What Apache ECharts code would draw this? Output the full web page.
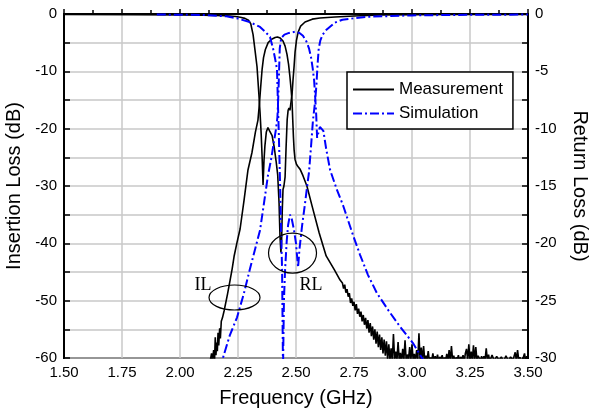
<!DOCTYPE html>
<html>
<head>
<meta charset="utf-8">
<script src="https://cdn.jsdelivr.net/npm/echarts@6/dist/echarts.min.js"></script>
<style>
  html, body { margin: 0; padding: 0; background: #fff; }
  #main { width: 589px; height: 412px; }
</style>
</head>
<body>
<div id="main"></div>
<script>
// measured insertion loss (dB), left axis
var measIlFreq = [2.130, 2.136, 2.140, 2.145, 2.149, 2.152, 2.155, 2.158, 2.161, 2.164, 2.167, 2.171, 2.174, 2.178, 2.183, 2.190, 2.198, 2.205, 2.216, 2.225, 2.233, 2.246, 2.259, 2.276, 2.293, 2.310, 2.325, 2.336, 2.342, 2.348, 2.354, 2.360, 2.368, 2.380, 2.395, 2.410, 2.420, 2.432, 2.444, 2.453, 2.461, 2.468, 2.474, 2.479, 2.483, 2.486, 2.489, 2.492, 2.496, 2.502, 2.510, 2.518, 2.530, 2.547, 2.570, 2.600, 2.630, 2.665, 2.690];
var measIl = [-60.6, -59.2, -60.5, -58.6, -60.3, -56.4, -59.5, -57.3, -58.8, -55.6, -57.8, -54.8, -56.6, -53.6, -53.0, -51.8, -50.2, -48.8, -46.4, -44.4, -42.3, -39.8, -37.5, -32.5, -27.2, -24.2, -20.6, -18.5, -15.8, -12.6, -9.6, -7.6, -6.2, -5.0, -4.4, -4.1, -4.0, -4.2, -4.7, -5.6, -7.0, -8.8, -11.0, -13.2, -15.3, -18.5, -21.5, -23.8, -25.4, -26.2, -26.7, -27.1, -28.2, -30.0, -33.6, -38.2, -42.2, -44.6, -46.4];

// noisy tail of the measured insertion loss, sweep points from 2.700 GHz every 0.005 GHz
var tailStart = 2.700;
var tailStep = 0.005;
var measIlTail = [
  -46.9, -47.9, -47.2, -48.6, -48.0, -49.3, -48.7, -50.4, -49.6, -50.9,
  -50.2, -51.7, -50.6, -52.3, -51.4, -52.8, -51.9, -53.6, -52.5, -54.2,
  -53.0, -54.9, -53.4, -55.6, -53.9, -56.2, -54.5, -56.8, -55.0, -57.5,
  -55.4, -58.1, -55.9, -58.6, -56.4, -59.2, -56.8, -59.6, -57.1, -60.2,
  -57.6, -60.4, -58.3, -60.6, -55.8, -60.3, -58.9, -60.5, -57.2, -60.4,
  -59.1, -60.6, -58.4, -60.3, -56.9, -60.5, -59.4, -60.2, -58.1, -60.6,
  -57.6, -60.4, -59.3, -60.5, -58.6, -60.3, -55.7, -60.6, -58.2, -60.4,
  -57.9, -60.5, -59.6, -60.3, -58.8, -60.6, -59.9, -60.4, -59.2, -60.5,
  -59.7, -60.4, -59.4, -60.6, -59.8, -60.3, -59.5, -60.5, -59.9, -60.4,
  -59.3, -60.5, -58.6, -60.5, -57.9, -60.4, -59.6, -60.5, -59.9, -60.3,
  -59.5, -60.6, -59.8, -60.3, -59.5, -60.6, -59.2, -58.4, -60.4, -57.6,
  -60.5, -58.9, -60.3, -57.8, -60.6, -58.1, -60.4, -59.6, -59.3, -60.5,
  -59.7, -60.4, -59.7, -60.3, -58.3, -60.5, -59.4, -60.6, -60.4, -59.5,
  -59.8, -60.5, -60.5, -59.7, -59.6, -60.4, -60.3, -59.8, -59.9, -60.6,
  -60.4, -59.6, -59.7, -60.5, -60.5, -59.8, -59.5, -60.4, -60.3, -59.0,
  -60.5, -58.6, -60.3, -59.9, -59.8, -60.5, -60.4, -59.2, -60.5, -59.7,
  -60.2
];

// measured return loss (dB), right axis
var measRlFreq = [1.50, 1.80, 2.00, 2.10, 2.20, 2.24, 2.26, 2.28, 2.295, 2.305, 2.315, 2.323, 2.332, 2.340, 2.345, 2.350, 2.354, 2.358, 2.362, 2.366, 2.372, 2.379, 2.386, 2.397, 2.406, 2.414, 2.421, 2.427, 2.431, 2.435, 2.438, 2.441, 2.444, 2.448, 2.453, 2.457, 2.462, 2.466, 2.470, 2.474, 2.479, 2.483, 2.487, 2.492, 2.496, 2.502, 2.509, 2.520, 2.539, 2.570, 2.603, 2.668, 2.75, 2.862, 3.0, 3.2, 3.5];
var measRl = [-0.05, -0.06, -0.08, -0.1, -0.15, -0.22, -0.28, -0.38, -0.55, -0.85, -1.8, -3.1, -4.6, -7.0, -8.6, -10.5, -12.5, -14.9, -12.8, -11.5, -10.3, -9.9, -10.2, -10.6, -11.6, -12.8, -14.0, -16.5, -19.4, -20.8, -19.8, -17.0, -15.3, -15.0, -14.2, -11.8, -9.2, -8.4, -8.2, -8.4, -7.6, -7.0, -5.8, -4.5, -3.3, -2.3, -1.6, -1.05, -0.7, -0.45, -0.35, -0.26, -0.18, -0.09, -0.06, -0.05, -0.04];

// simulated insertion loss (dB), left axis
var simIlFreq = [2.175, 2.185, 2.215, 2.246, 2.275, 2.300, 2.325, 2.345, 2.362, 2.379, 2.392, 2.404, 2.414, 2.420, 2.424, 2.427, 2.430, 2.436, 2.450, 2.470, 2.496, 2.515, 2.530, 2.545, 2.556, 2.565, 2.572, 2.578, 2.582, 2.587, 2.591, 2.596, 2.603, 2.610, 2.618, 2.630, 2.647, 2.675, 2.703, 2.746, 2.776, 2.810, 2.849, 2.900, 2.948, 3.004, 3.043, 3.07];
var simIl = [-62.0, -60.0, -56.0, -52.9, -48.8, -44.7, -40.8, -37.7, -33.0, -28.2, -25.5, -22.5, -20.0, -18.0, -14.0, -10.0, -6.0, -4.2, -3.6, -3.3, -3.1, -3.3, -3.8, -4.8, -6.0, -7.6, -9.5, -11.5, -14.0, -17.5, -21.6, -20.8, -19.7, -19.6, -20.4, -23.5, -27.2, -30.5, -33.4, -38.6, -42.0, -45.5, -48.7, -51.8, -54.5, -57.4, -60.0, -61.5];

// simulated return loss (dB), right axis
var simRlFreq = [1.90, 2.00, 2.10, 2.20, 2.25, 2.30, 2.345, 2.37, 2.388, 2.401, 2.410, 2.418, 2.422, 2.426, 2.431, 2.436, 2.440, 2.444, 2.448, 2.453, 2.460, 2.466, 2.474, 2.482, 2.491, 2.500, 2.505, 2.509, 2.515, 2.526, 2.539, 2.547, 2.556, 2.565, 2.573, 2.582, 2.588, 2.593, 2.598, 2.605, 2.615, 2.630, 2.668, 2.70, 2.80, 3.0, 3.2, 3.5];
var simRl = [-0.05, -0.06, -0.09, -0.2, -0.4, -0.7, -1.13, -1.6, -2.0, -3.0, -3.9, -4.8, -7.7, -10.5, -14.5, -19.0, -22.3, -31.0, -25.0, -22.3, -19.8, -18.4, -17.5, -17.9, -18.8, -20.0, -21.2, -22.1, -20.5, -18.5, -16.5, -15.2, -13.8, -11.5, -9.3, -7.7, -6.2, -4.4, -3.0, -2.3, -1.8, -1.4, -0.75, -0.5, -0.25, -0.12, -0.08, -0.05];

function pairs(xs, ys) {
  var out = [];
  for (var i = 0; i < xs.length; i++) out.push([xs[i], ys[i]]);
  return out;
}

var measIlData = pairs(measIlFreq, measIl);
for (var i = 0; i < measIlTail.length; i++) {
  measIlData.push([+(tailStart + i * tailStep).toFixed(3), measIlTail[i]]);
}

var sans = '"Liberation Sans", Arial, sans-serif';
var serif = '"Liberation Serif", "Times New Roman", serif';
var gridColor = '#c8c8c8';
var simStyle = { color: '#0000ff', width: 2, type: [9, 3, 2, 3] };
var measStyle = { color: '#000', width: 1.6 };

var myChart = echarts.init(document.getElementById('main'));

option = {
  animation: false,
  backgroundColor: '#fff',
  textStyle: { fontFamily: sans },
  grid: {
    left: 64, right: 61, top: 14, bottom: 54,
    outerBoundsMode: 'none', containLabel: false,
    show: true, borderColor: '#000', borderWidth: 2
  },
  legend: {
    data: ['Measurement', 'Simulation'],
    orient: 'vertical',
    left: 347, top: 72,
    backgroundColor: '#fff',
    borderColor: '#000', borderWidth: 1.5, borderRadius: 0,
    padding: [9, 10, 7, 5],
    itemWidth: 41, itemHeight: 14, itemGap: 7,
    itemStyle: { color: 'rgba(0,0,0,0)', borderWidth: 0 },
    textStyle: { fontSize: 17, color: '#000', fontFamily: sans }
  },
  xAxis: {
    type: 'value', min: 1.5, max: 3.5, interval: 0.25,
    name: 'Frequency (GHz)', nameLocation: 'middle', nameGap: 30,
    nameTextStyle: { fontSize: 20, color: '#000', fontFamily: sans },
    axisLine: { lineStyle: { color: '#000', width: 2 } },
    axisTick: { inside: true, length: 5, lineStyle: { color: '#000', width: 1.5 } },
    minorTick: { show: true, splitNumber: 2, length: 4, lineStyle: { color: '#000', width: 1.5 } },
    splitLine: { show: true, lineStyle: { color: gridColor, width: 1.5 } },
    axisLabel: { color: '#000', fontSize: 15, margin: 7, formatter: function (v) { return v.toFixed(2); } }
  },
  yAxis: [{
    type: 'value', min: -60, max: 0, interval: 10,
    name: 'Insertion Loss (dB)', nameLocation: 'middle', nameGap: 40,
    nameTextStyle: { fontSize: 20, color: '#000', fontFamily: sans },
    axisLine: { show: true, lineStyle: { color: '#000', width: 2 } },
    axisTick: { show: true, inside: true, length: 6, lineStyle: { color: '#000', width: 1.5 } },
    minorTick: { show: true, splitNumber: 2, length: 6, lineStyle: { color: '#000', width: 1.5 } },
    splitLine: { show: true, lineStyle: { color: gridColor, width: 1.5 } },
    minorSplitLine: { show: true, lineStyle: { color: gridColor, width: 1.5 } },
    axisLabel: { color: '#000', fontSize: 15, margin: 7 }
  }, {
    type: 'value', min: -30, max: 0, interval: 5, position: 'right',
    name: 'Return Loss (dB)', nameLocation: 'middle', nameGap: 42, nameRotate: -90,
    nameTextStyle: { fontSize: 20, color: '#000', fontFamily: sans },
    axisLine: { show: true, lineStyle: { color: '#000', width: 2 } },
    axisTick: { show: true, inside: true, length: 6, lineStyle: { color: '#000', width: 1.5 } },
    minorTick: { show: true, splitNumber: 2, length: 6, lineStyle: { color: '#000', width: 1.5 } },
    splitLine: { show: false },
    axisLabel: { color: '#000', fontSize: 15, margin: 7 }
  }],
  series: [{
    name: 'Measurement', type: 'line', yAxisIndex: 0, data: measIlData,
    symbol: 'none', lineStyle: measStyle, itemStyle: { color: '#000' }, z: 3
  }, {
    name: 'Measurement', type: 'line', yAxisIndex: 1, data: pairs(measRlFreq, measRl),
    symbol: 'none', lineStyle: measStyle, itemStyle: { color: '#000' }, z: 3
  }, {
    name: 'Simulation', type: 'line', yAxisIndex: 0, data: pairs(simIlFreq, simIl),
    symbol: 'none', lineStyle: simStyle, itemStyle: { color: '#0000ff' }, z: 4
  }, {
    name: 'Simulation', type: 'line', yAxisIndex: 1, data: pairs(simRlFreq, simRl),
    symbol: 'none', lineStyle: simStyle, itemStyle: { color: '#0000ff' }, z: 4
  }]
};
myChart.setOption(option);

// ellipse callouts, placed from data coordinates
function px(f, db) {
  return myChart.convertToPixel({ xAxisIndex: 0, yAxisIndex: 0 }, [f, db]);
}
var ilC = px(2.235, -49.45);
var rlC = px(2.485, -41.7);
var ilT = px(2.099, -47.4);
var rlT = px(2.565, -47.3);
myChart.setOption({
  graphic: [
    { type: 'ellipse', shape: { cx: ilC[0], cy: ilC[1], rx: 25.5, ry: 12.5 },
      style: { fill: 'none', stroke: '#000', lineWidth: 1.2 }, z: 10 },
    { type: 'ellipse', shape: { cx: rlC[0], cy: rlC[1], rx: 24, ry: 20 },
      style: { fill: 'none', stroke: '#000', lineWidth: 1.2 }, z: 10 },
    { type: 'text', x: ilT[0], y: ilT[1], z: 10,
      style: { text: 'IL', font: '18px ' + serif, fill: '#000', align: 'center', verticalAlign: 'middle' } },
    { type: 'text', x: rlT[0], y: rlT[1], z: 10,
      style: { text: 'RL', font: '18px ' + serif, fill: '#000', align: 'center', verticalAlign: 'middle' } }
  ]
});
</script>
</body>
</html>
